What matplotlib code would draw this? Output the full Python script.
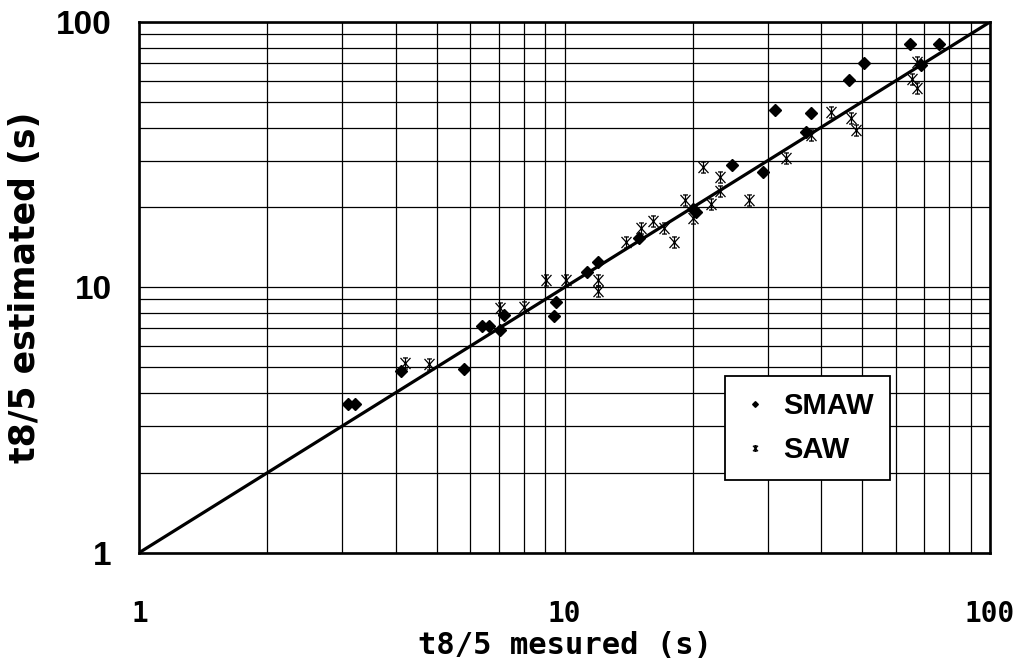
import matplotlib
matplotlib.use('Agg')

import matplotlib.pyplot as plt
from matplotlib.path import Path
from matplotlib.ticker import NullFormatter

# t8/5 cooling time: measured vs. estimated (s)
smaw_measured = [3.09, 3.21, 4.11, 5.80, 6.40, 6.64, 7.03, 7.20, 9.44, 9.52,
                 11.3, 12.0, 14.95, 20.0, 20.3, 24.7, 29.2, 31.2, 37.0, 38.0,
                 46.6, 50.6, 64.8, 69.0, 75.9]
smaw_estimated = [3.63, 3.63, 4.82, 4.93, 7.15, 7.15, 6.91, 7.87, 7.76, 8.76,
                  11.4, 12.4, 15.3, 19.8, 19.2, 29.0, 27.3, 46.5, 38.5, 45.2,
                  60.3, 70.1, 82.8, 69.1, 82.8]

saw_measured = [4.20, 4.79, 7.03, 8.02, 9.02, 10.05, 12.0, 12.0, 13.97, 15.1,
                16.13, 17.09, 18.05, 19.15, 20.03, 21.15, 22.13, 23.14, 23.14,
                27.13, 33.2, 38.0, 42.2, 47.2, 48.4, 65.7, 67.2, 67.2]
saw_estimated = [5.18, 5.13, 8.34, 8.41, 10.65, 10.65, 10.65, 9.68, 14.86, 16.67,
                 17.83, 16.67, 14.86, 21.3, 18.3, 28.5, 20.58, 26.1, 23.12,
                 21.3, 30.8, 37.6, 45.6, 43.5, 39.1, 61.2, 70.7, 56.6]

# y = x reference line
ref_line = [1, 100]

axis_ticks = [1, 10, 100]
axis_tick_labels = ['1', '10', '100']

# star marker: an X crossed by a vertical bar, capped top and bottom
star = Path(
    [(-0.9, -1), (0.9, 1), (-0.9, 1), (0.9, -1), (0, -1), (0, 1),
     (-0.45, 1), (0.45, 1), (-0.45, -1), (0.45, -1)],
    [Path.MOVETO, Path.LINETO] * 5)

fig = plt.figure(figsize=(10.24, 6.68), dpi=100)
ax = fig.add_axes([0.1362, 0.1729, 0.8306, 0.7942])

ax.set_xscale('log')
ax.set_yscale('log')
ax.set_xlim(1, 100)
ax.set_ylim(1, 100)

ax.grid(which='both', color='black', linewidth=0.9)
ax.set_axisbelow(True)

ax.plot(ref_line, ref_line, color='black', linewidth=2.3, zorder=3)
ax.plot(smaw_measured, smaw_estimated, linestyle='none', marker='D',
        markersize=5.8, color='black', label='SMAW', zorder=4)
ax.plot(saw_measured, saw_estimated, linestyle='none', marker=star,
        markersize=8, markeredgewidth=0.9, color='black', label='SAW',
        zorder=4)

ax.set_xticks(axis_ticks)
ax.set_xticklabels(axis_tick_labels, family='DejaVu Sans Mono',
                   fontweight='bold', fontsize=20)
ax.set_yticks(axis_ticks)
ax.set_yticklabels(axis_tick_labels, family='Liberation Sans',
                   fontweight='bold', fontsize=24)
ax.xaxis.set_minor_formatter(NullFormatter())
ax.yaxis.set_minor_formatter(NullFormatter())
ax.tick_params(which='both', length=0)
ax.tick_params(axis='x', pad=34)
ax.tick_params(axis='y', pad=20)

for spine in ax.spines.values():
    spine.set_linewidth(1.9)
    spine.set_zorder(5)

ax.set_xlabel('t8/5 mesured (s)', family='DejaVu Sans Mono',
              fontweight='bold', fontsize=22, labelpad=2)
ax.set_ylabel('t8/5 estimated (s)', family='DejaVu Sans',
              fontweight='bold', fontsize=25, labelpad=10)

leg = ax.legend(loc='upper left', bbox_to_anchor=(0.688, 0.333),
                borderaxespad=0, fancybox=False, framealpha=1,
                edgecolor='black', markerscale=0.5, handlelength=1.0,
                handletextpad=0.45, borderpad=0.55, labelspacing=0.55,
                prop={'family': 'Liberation Sans', 'weight': 'bold',
                      'size': 21})
leg.get_frame().set_linewidth(1.3)
leg.set_zorder(6)

fig.savefig('out.png', dpi=100)
